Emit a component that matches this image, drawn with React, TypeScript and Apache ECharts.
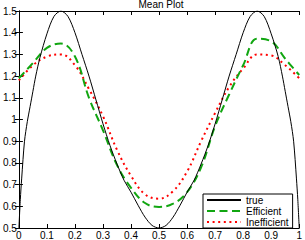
import React, { useEffect, useRef } from "react";
import * as echarts from "echarts";

const titleText = "Mean Plot";
const seriesNames = ["true", "Efficient", "Inefficient"];

const trueX = [0, 0.005, 0.01, 0.02, 0.03, 0.04, 0.05, 0.06, 0.075, 0.1, 0.125, 0.15, 0.175, 0.2, 0.225, 0.25, 0.275, 0.3, 0.325, 0.35, 0.375, 0.4, 0.425, 0.45, 0.475, 0.5, 0.525, 0.55, 0.575, 0.6, 0.625, 0.65, 0.675, 0.7, 0.725, 0.75, 0.775, 0.8, 0.825, 0.85, 0.875, 0.9, 0.925, 0.94, 0.95, 0.96, 0.97, 0.98, 0.99, 0.995, 1];
const trueY = [0.5, 0.63, 0.73, 0.9, 0.99, 1.06, 1.13, 1.2, 1.285, 1.395, 1.475, 1.5, 1.475, 1.4, 1.3, 1.2, 1.09, 0.98, 0.88, 0.795, 0.72, 0.665, 0.605, 0.55, 0.512, 0.5, 0.512, 0.55, 0.605, 0.665, 0.72, 0.795, 0.88, 0.98, 1.09, 1.2, 1.3, 1.4, 1.475, 1.5, 1.475, 1.395, 1.29, 1.2, 1.13, 1.06, 0.99, 0.9, 0.73, 0.63, 0.5];

const effX = [0, 0.05, 0.1, 0.15, 0.2, 0.25, 0.3, 0.35, 0.4, 0.45, 0.5, 0.55, 0.6, 0.65, 0.7, 0.75, 0.8, 0.85, 0.9, 0.95, 1];
const effY = [1.19, 1.26, 1.33, 1.35, 1.29, 1.1, 0.95, 0.79, 0.685, 0.615, 0.597, 0.612, 0.665, 0.78, 0.97, 1.115, 1.25, 1.372, 1.36, 1.28, 1.205];

const ineX = [0, 0.05, 0.1, 0.15, 0.2, 0.25, 0.3, 0.35, 0.4, 0.45, 0.5, 0.55, 0.6, 0.65, 0.7, 0.75, 0.8, 0.85, 0.9, 0.95, 1];
const ineY = [1.18, 1.25, 1.29, 1.3, 1.25, 1.14, 1.015, 0.86, 0.74, 0.655, 0.635, 0.67, 0.76, 0.9, 1.03, 1.15, 1.235, 1.3, 1.295, 1.25, 1.19];

const xTicks = { min: 0, max: 1, interval: 0.1 };
const yTicks = { min: 0.5, max: 1.5, interval: 0.1 };

const zip = (xs: number[], ys: number[]) => xs.map((x, i) => [x, ys[i]]);

const FONT = "Liberation Sans, Arial, Helvetica, sans-serif";

export default function App() {
  const ref = useRef<HTMLDivElement>(null);
  useEffect(() => {
    if (!ref.current) return;
    const chart = echarts.init(ref.current, undefined, { renderer: "svg" });
    const axisLine = { show: true, lineStyle: { color: "#000", width: 1 } };
    const tick = { show: true, inside: true, length: 4, lineStyle: { color: "#000", width: 1 } };
    const labelStyle = { color: "#000", fontSize: 10, fontFamily: FONT };
    chart.setOption({
      animation: false,
      backgroundColor: "#fff",
      title: {
        text: titleText,
        left: 161,
        textAlign: "center",
        top: -1,
        textStyle: { fontSize: 10, fontWeight: "normal", color: "#000", fontFamily: FONT },
        padding: 0,
      },
      grid: { left: 16, right: 2, top: 11, bottom: 9, containLabel: false },
      legend: {
        orient: "vertical",
        left: 203,
        top: 194,
        data: seriesNames,
        itemWidth: 34,
        itemHeight: 8,
        itemGap: 1,
        padding: [1, 4, 1, 3],
        borderColor: "#000",
        borderWidth: 1,
        backgroundColor: "#fff",
        itemStyle: { opacity: 0 },
        textStyle: { fontSize: 10, color: "#000", fontFamily: FONT, lineHeight: 9 },
      },
      xAxis: [
        {
          type: "value",
          ...xTicks,
          axisLine,
          axisTick: tick,
          splitLine: { show: false },
          axisLabel: { ...labelStyle, margin: 2 },
        },
        {
          type: "value",
          position: "top",
          ...xTicks,
          axisLine,
          axisTick: tick,
          splitLine: { show: false },
          axisLabel: { show: false },
        },
      ],
      yAxis: [
        {
          type: "value",
          ...yTicks,
          axisLine,
          axisTick: tick,
          splitLine: { show: false },
          axisLabel: { ...labelStyle, margin: 2 },
        },
        {
          type: "value",
          position: "right",
          ...yTicks,
          axisLine,
          axisTick: tick,
          splitLine: { show: false },
          axisLabel: { show: false },
        },
      ],
      series: [
        {
          name: seriesNames[0],
          type: "line",
          data: zip(trueX, trueY),
          smooth: 0.3,
          symbol: "none",
          lineStyle: { color: "#000", width: 1 },
          itemStyle: { color: "#000" },
          z: 3,
        },
        {
          name: seriesNames[1],
          type: "line",
          data: zip(effX, effY),
          smooth: 0.4,
          symbol: "none",
          lineStyle: { color: "#11a611", width: 2, type: [8, 4.5] },
          itemStyle: { color: "#11a611" },
          z: 2,
        },
        {
          name: seriesNames[2],
          type: "line",
          data: zip(ineX, ineY),
          smooth: 0.4,
          symbol: "none",
          lineStyle: { color: "#ff0000", width: 2, type: [2, 3.6] },
          itemStyle: { color: "#ff0000" },
          z: 1,
        },
      ],
    });
    return () => chart.dispose();
  }, []);
  return (
    <div
      ref={ref}
      style={{ position: "fixed", left: 0, top: 0, width: 305, height: 240, background: "#fff" }}
    />
  );
}
